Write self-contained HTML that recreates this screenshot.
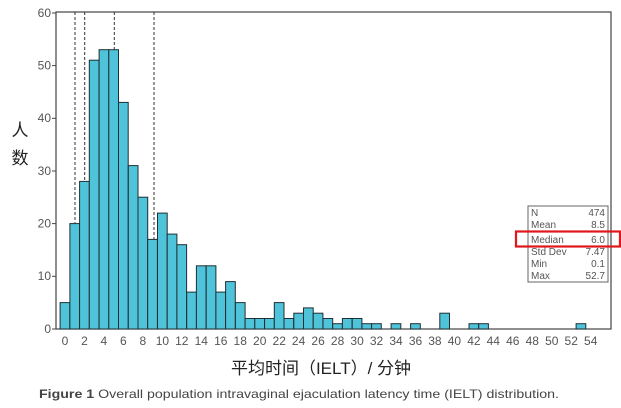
<!DOCTYPE html>
<html><head><meta charset="utf-8"><style>
html,body{margin:0;padding:0;background:#fff;}
svg{display:block;}
</style></head><body>
<svg width="621" height="408" viewBox="0 0 621 408" xmlns="http://www.w3.org/2000/svg" font-family="Liberation Sans, sans-serif">
<rect x="0" y="0" width="621" height="408" fill="#fff"/>
<rect x="56" y="12" width="555" height="317" fill="none" stroke="#444" stroke-width="1.2"/>
<g fill="#4fc3d9" stroke="#1f2f33" stroke-width="1">
<rect x="60.1" y="302.6" width="9.7" height="26.4"/>
<rect x="69.9" y="223.6" width="9.7" height="105.4"/>
<rect x="79.6" y="181.4" width="9.7" height="147.6"/>
<rect x="89.3" y="60.2" width="9.7" height="268.8"/>
<rect x="99.1" y="49.7" width="9.7" height="279.3"/>
<rect x="108.8" y="49.7" width="9.7" height="279.3"/>
<rect x="118.5" y="102.4" width="9.7" height="226.6"/>
<rect x="128.3" y="165.6" width="9.7" height="163.4"/>
<rect x="138.0" y="197.2" width="9.7" height="131.8"/>
<rect x="147.7" y="239.4" width="9.7" height="89.6"/>
<rect x="157.5" y="213.1" width="9.7" height="115.9"/>
<rect x="167.2" y="234.1" width="9.7" height="94.9"/>
<rect x="176.9" y="244.7" width="9.7" height="84.3"/>
<rect x="186.7" y="292.1" width="9.7" height="36.9"/>
<rect x="196.4" y="265.8" width="9.7" height="63.2"/>
<rect x="206.2" y="265.8" width="9.7" height="63.2"/>
<rect x="215.9" y="292.1" width="9.7" height="36.9"/>
<rect x="225.6" y="281.6" width="9.7" height="47.4"/>
<rect x="235.4" y="302.6" width="9.7" height="26.4"/>
<rect x="245.1" y="318.5" width="9.7" height="10.5"/>
<rect x="254.8" y="318.5" width="9.7" height="10.5"/>
<rect x="264.6" y="318.5" width="9.7" height="10.5"/>
<rect x="274.3" y="302.6" width="9.7" height="26.4"/>
<rect x="284.0" y="318.5" width="9.7" height="10.5"/>
<rect x="293.8" y="313.2" width="9.7" height="15.8"/>
<rect x="303.5" y="307.9" width="9.7" height="21.1"/>
<rect x="313.2" y="313.2" width="9.7" height="15.8"/>
<rect x="323.0" y="318.5" width="9.7" height="10.5"/>
<rect x="332.7" y="323.7" width="9.7" height="5.3"/>
<rect x="342.4" y="318.5" width="9.7" height="10.5"/>
<rect x="352.2" y="318.5" width="9.7" height="10.5"/>
<rect x="361.9" y="323.7" width="9.7" height="5.3"/>
<rect x="371.6" y="323.7" width="9.7" height="5.3"/>
<rect x="391.1" y="323.7" width="9.7" height="5.3"/>
<rect x="410.6" y="323.7" width="9.7" height="5.3"/>
<rect x="439.8" y="313.2" width="9.7" height="15.8"/>
<rect x="469.0" y="323.7" width="9.7" height="5.3"/>
<rect x="478.7" y="323.7" width="9.7" height="5.3"/>
<rect x="576.1" y="323.7" width="9.7" height="5.3"/>
</g>
<g stroke="#333" stroke-width="1" stroke-dasharray="3,2">
<line x1="75" y1="12" x2="75" y2="223"/>
<line x1="84.7" y1="12" x2="84.7" y2="181"/>
<line x1="114.3" y1="12" x2="114.3" y2="50"/>
<line x1="154" y1="12" x2="154" y2="239"/>
</g>
<g stroke="#444" stroke-width="1">
<line x1="52" y1="329" x2="56" y2="329"/><line x1="52" y1="276.3" x2="56" y2="276.3"/>
<line x1="52" y1="223.6" x2="56" y2="223.6"/><line x1="52" y1="171" x2="56" y2="171"/>
<line x1="52" y1="118.3" x2="56" y2="118.3"/><line x1="52" y1="65.6" x2="56" y2="65.6"/>
<line x1="52" y1="13" x2="56" y2="13"/>
</g>
<g font-size="12" fill="#555" text-anchor="end">
<text x="51" y="333">0</text><text x="51" y="280">10</text><text x="51" y="227.5">20</text>
<text x="51" y="175">30</text><text x="51" y="122">40</text><text x="51" y="69.5">50</text><text x="51" y="17">60</text>
</g>
<g font-size="12" fill="#555" text-anchor="middle">
<text x="65" y="345">0</text><text x="84.5" y="345">2</text><text x="103.9" y="345">4</text><text x="123.4" y="345">6</text>
<text x="142.9" y="345">8</text><text x="162.4" y="345">10</text><text x="181.8" y="345">12</text><text x="201.3" y="345">14</text>
<text x="220.8" y="345">16</text><text x="240.2" y="345">18</text><text x="259.7" y="345">20</text><text x="279.2" y="345">22</text>
<text x="298.6" y="345">24</text><text x="318.1" y="345">26</text><text x="337.6" y="345">28</text><text x="357.1" y="345">30</text>
<text x="376.5" y="345">32</text><text x="396" y="345">34</text><text x="415.5" y="345">36</text><text x="434.9" y="345">38</text>
<text x="454.4" y="345">40</text><text x="473.9" y="345">42</text><text x="493.3" y="345">44</text><text x="512.8" y="345">46</text>
<text x="532.3" y="345">48</text><text x="551.8" y="345">50</text><text x="571.2" y="345">52</text><text x="590.7" y="345">54</text>
</g>
<rect x="528" y="206" width="80" height="76" fill="#fff" stroke="#666" stroke-width="1"/>
<g font-size="10" fill="#555">
<text x="531" y="216">N</text><text x="605" y="216" text-anchor="end">474</text>
<text x="531" y="228">Mean</text><text x="605" y="228" text-anchor="end">8.5</text>
<text x="531" y="243">Median</text><text x="605" y="243" text-anchor="end">6.0</text>
<text x="531" y="255">Std Dev</text><text x="605" y="255" text-anchor="end">7.47</text>
<text x="531" y="267">Min</text><text x="605" y="267" text-anchor="end">0.1</text>
<text x="531" y="279">Max</text><text x="605" y="279" text-anchor="end">52.7</text>
</g>
<rect x="516" y="231.5" width="104" height="15" fill="none" stroke="#e0161b" stroke-width="2.2"/>
<g font-family="Liberation Sans, Noto Sans CJK SC, sans-serif" fill="#222" font-size="17">
<text x="20" y="136" text-anchor="middle">人</text>
<text x="20" y="164" text-anchor="middle">数</text>
<text x="321" y="374" text-anchor="middle">平均时间（IELT）/ 分钟</text>
</g>
<text x="39" y="398" font-size="12" fill="#444" textLength="520" lengthAdjust="spacingAndGlyphs"><tspan font-weight="bold">Figure 1</tspan>  Overall population intravaginal ejaculation latency time (IELT) distribution.</text>
</svg>
</body></html>
